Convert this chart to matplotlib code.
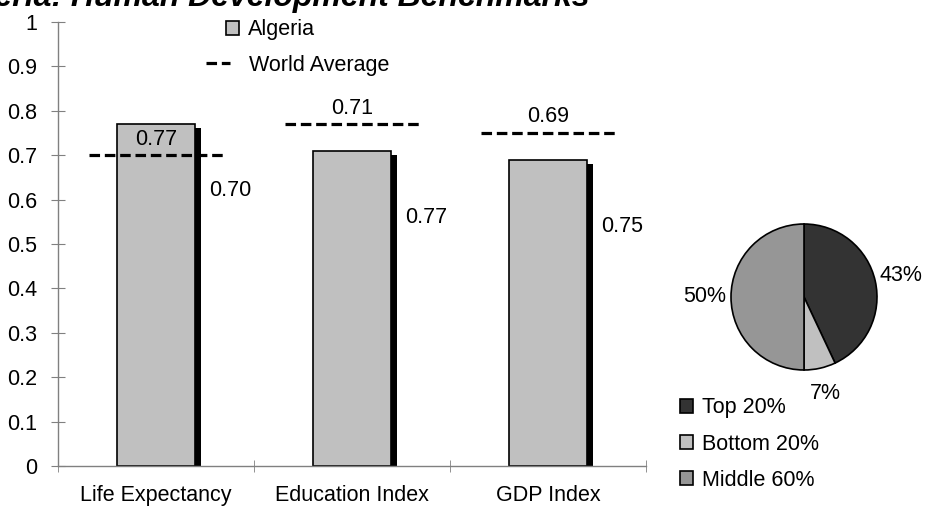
import matplotlib
matplotlib.use('Agg')
from matplotlib import pyplot as plt
from matplotlib import patheffects
from matplotlib.patches import Patch
from matplotlib.lines import Line2D
from matplotlib.ticker import FuncFormatter, MultipleLocator
import numpy as np

# data
categories = ['Life Expectancy', 'Education Index', 'GDP Index']
algeria = [0.77, 0.71, 0.69]
world_avg = [0.70, 0.77, 0.75]

pie_labels = ['Top 20%', 'Bottom 20%', 'Middle 60%']
pie_shares = [43, 7, 50]
pie_colors = ['#333333', '#c0c0c0', '#969696']

title = 'Algeria: Human Development Benchmarks'

plt.rcParams['font.family'] = ['Liberation Sans', 'DejaVu Sans']
plt.rcParams['font.size'] = 15.5

W, H = 926, 509
fig = plt.figure(figsize=(W / 100, H / 100), dpi=100)
fig.patch.set_facecolor('white')

# main bar chart
ax = fig.add_axes([58 / W, 43 / H, 588 / W, 444 / H])
x = np.arange(len(categories)) + 0.5
shadow = [patheffects.SimplePatchShadow(offset=(4.0, -2.9), shadow_rgbFace='black', alpha=1.0),
          patheffects.Normal()]
bars = ax.bar(x, algeria, width=0.4, color='#c0c0c0', edgecolor='black', linewidth=1.2, zorder=2)
for b in bars:
    b.set_path_effects(shadow)

ax.hlines(world_avg, x - 0.34, x + 0.34, colors='black', linestyles=(0, (3.3, 1.5)),
          linewidth=2.3, zorder=3)

for xi, a, w in zip(x, algeria, world_avg):
    # labels sit where the original chart put them
    ax.annotate('%.2f' % a, (xi, w), xytext=(0, 4), textcoords='offset points',
                ha='center', va='bottom', zorder=4)
    ax.annotate('%.2f' % w, (xi + 0.2, a - 0.15), xytext=(10, 0), textcoords='offset points',
                ha='left', va='center', zorder=4)

ax.set_xlim(0, 3)
ax.set_ylim(0, 1)
ax.yaxis.set_major_locator(MultipleLocator(0.1))
ax.yaxis.set_major_formatter(FuncFormatter(lambda v, p: '%g' % round(v, 1)))
ax.set_xticks(x)
ax.set_xticklabels(categories)
ax.set_xticks([0, 1, 2, 3], minor=True)
ax.tick_params(axis='x', which='major', length=0, pad=14)
ax.tick_params(axis='x', which='minor', direction='inout', length=9, color='#808080')
ax.tick_params(axis='y', direction='inout', length=10, color='#808080', pad=10)
for s in ['top', 'right']:
    ax.spines[s].set_visible(False)
for s in ['left', 'bottom']:
    ax.spines[s].set_color('#808080')
    ax.spines[s].set_linewidth(1.0)

leg1 = ax.legend(handles=[Patch(facecolor='#c0c0c0', edgecolor='black', linewidth=1.2)],
                 labels=['Algeria'], loc='center left',
                 bbox_to_anchor=(226 / W, 479 / H), bbox_transform=fig.transFigure,
                 frameon=False, borderpad=0, borderaxespad=0,
                 handlelength=0.6, handleheight=0.6, handletextpad=0.4)
ax.add_artist(leg1)
ax.legend(handles=[Line2D([], [], color='black', linestyle=(0, (3.3, 1.5)), linewidth=2.3)],
          labels=['World Average'], loc='center left',
          bbox_to_anchor=(206 / W, 444 / H), bbox_transform=fig.transFigure,
          frameon=False, borderpad=0, borderaxespad=0,
          handlelength=1.1, handletextpad=0.9)

# pie of income shares
r = 73
cx, cy = 804, H - 297
ax2 = fig.add_axes([(cx - 1.5 * r) / W, (cy - 1.5 * r) / H, 3 * r / W, 3 * r / H])
wedges, texts = ax2.pie(pie_shares, colors=pie_colors, startangle=90, counterclock=False,
                        labels=['%d%%' % v for v in pie_shares], labeldistance=1.36,
                        textprops=dict(fontsize=15.5),
                        wedgeprops=dict(edgecolor='black', linewidth=1.2))
for t in texts:
    t.set_horizontalalignment('center')
    t.set_verticalalignment('center')
ax2.set_xlim(-1.5, 1.5)
ax2.set_ylim(-1.5, 1.5)
ax2.set_aspect('equal')

fig.legend(wedges, pie_labels, loc='center left',
           bbox_to_anchor=(680 / W, (H - 444) / H), bbox_transform=fig.transFigure,
           frameon=False, borderpad=0, borderaxespad=0,
           handlelength=0.6, handleheight=0.6, handletextpad=0.4, labelspacing=0.7)

fig.text(590 / W, 1 - 6 / H, title, ha='right', va='baseline',
         fontsize=23, fontweight='bold', fontstyle='italic')

fig.savefig('out.png', dpi=100)
